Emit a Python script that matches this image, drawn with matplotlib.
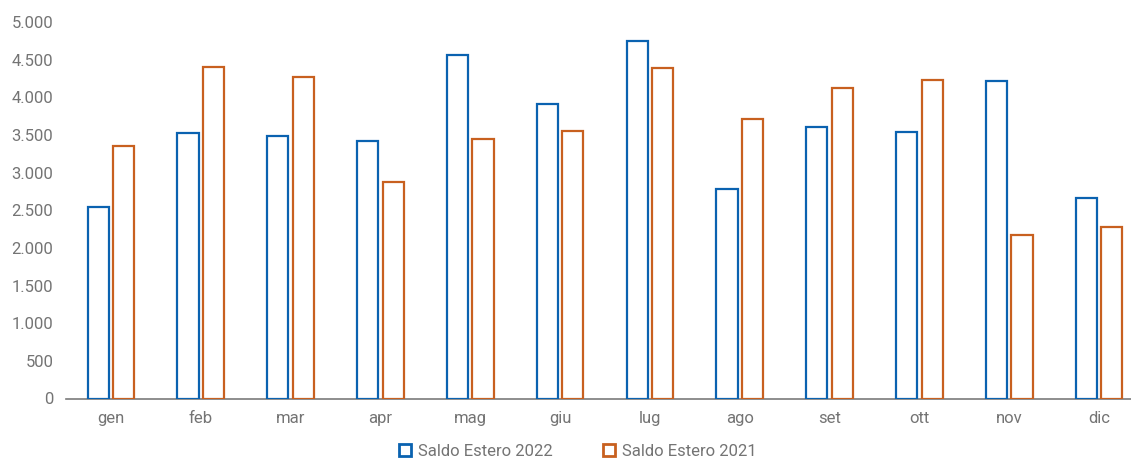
import matplotlib
matplotlib.use("Agg")
import matplotlib.pyplot as plt
from matplotlib.patches import Patch
import numpy as np

months = ["gen", "feb", "mar", "apr", "mag", "giu", "lug", "ago", "set", "ott", "nov", "dic"]
saldo_2022 = [2544, 3528, 3484, 3418, 4561, 3910, 4747, 2788, 3604, 3537, 4211, 2660]
saldo_2021 = [3355, 4402, 4265, 2872, 3444, 3551, 4384, 3714, 4118, 4229, 2172, 2274]
y_ticks = [0, 500, 1000, 1500, 2000, 2500, 3000, 3500, 4000, 4500, 5000]

BLUE = "#0a62b0"
ORANGE = "#c8601f"
GREY = "#747474"

plt.rcParams["font.family"] = ["Roboto", "Liberation Sans", "DejaVu Sans"]

W, H = 1131, 459
fig = plt.figure(figsize=(W / 100, H / 100), dpi=100)
ax = fig.add_axes([66 / W, 1 - 398.5 / H, (1144 - 66) / W, (398.5 - 22) / H])

x = np.arange(len(months))
bw = 0.235
off = 0.142
ax.bar(x - off, saldo_2022, width=bw, facecolor="white", edgecolor=BLUE, linewidth=1.6, zorder=3)
ax.bar(x + off, saldo_2021, width=bw, facecolor="white", edgecolor=ORANGE, linewidth=1.6, zorder=3)

ax.set_xlim(-0.5, len(months) - 0.5)
ax.set_ylim(0, 5000)
ax.set_yticks(y_ticks)
ax.set_yticklabels([f"{v:,}".replace(",", ".") for v in y_ticks])
ax.set_xticks(x)
ax.set_xticklabels(months)

for s in ["top", "right", "left"]:
    ax.spines[s].set_visible(False)
ax.spines["bottom"].set_color("#7a7a7a")
ax.spines["bottom"].set_linewidth(1.2)
ax.tick_params(axis="both", length=0, labelsize=12, labelcolor=GREY)
ax.tick_params(axis="y", pad=9)
ax.tick_params(axis="x", pad=9)

handles = [
    Patch(facecolor="white", edgecolor=BLUE, linewidth=2, label="Saldo Estero 2022"),
    Patch(facecolor="white", edgecolor=ORANGE, linewidth=2, label="Saldo Estero 2021"),
]
leg = fig.legend(handles=handles, loc="center", bbox_to_anchor=(578 / W, 1 - 451 / H),
                 ncol=2, frameon=False, fontsize=12, handlelength=0.7, handleheight=0.7,
                 handletextpad=0.45, columnspacing=3.0)
for t in leg.get_texts():
    t.set_color(GREY)

fig.savefig("out.png", dpi=100)
